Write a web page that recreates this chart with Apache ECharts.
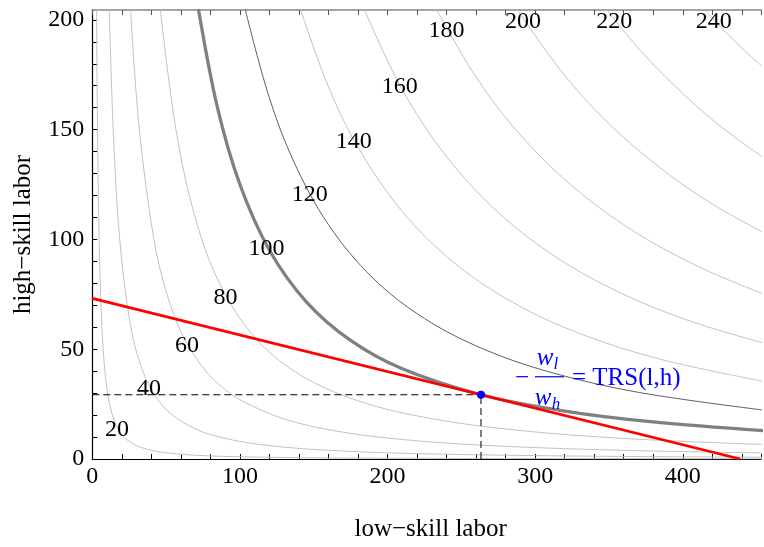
<!DOCTYPE html>
<html><head><meta charset="utf-8">
<script src="https://cdn.jsdelivr.net/npm/echarts@6/dist/echarts.min.js"></script>
<style>html,body{margin:0;padding:0;background:#fff}#c{width:764px;height:547px}</style>
</head><body><div id="c"></div>
<script>
// Isoquant curves: [low-skill labor, high-skill labor]
const curve20 = [[2.876,205],[3.542,150],[4.642,100],[6.523,60],[9.346,35],[13.57,20],[19.08,12],[25,8],[34.2,5],[48.08,3],[63,2],[76.3,1.5],[100,1],[150,0.544],[200,0.354],[300,0.1925],[455,0.103]];
const curve40 = [[11.5,205],[14.17,150],[18.57,100],[26.09,60],[34.2,40],[43.4,28],[54.3,20],[68.9,14],[80,11.18],[100,8],[130,5.397],[170,3.609],[220,2.452],[300,1.54],[380,1.08],[455,0.824]];
const curve60 = [[25.88,205],[31.88,150],[41.77,100],[50.6,75],[62.2,55],[76.9,40],[88,32.71],[100,27],[130,18.22],[170,12.18],[220,8.274],[280,5.763],[360,3.953],[455,2.782]];
const curve80 = [[46.02,205],[56.68,150],[69.7,110],[86.2,80],[110,55.47],[140,38.64],[180,26.5],[230,18.35],[290,12.96],[360,9.369],[455,6.594]];
const curve100 = [[71.9,205],[84.8,160],[100,125],[120,95.09],[145,71.59],[175,54.0],[210,41.07],[263.3,29.26],[320,21.84],[380,16.87],[455,12.879]];
const curve120 = [[103.5,205],[119.7,165],[136.8,135],[160,106.7],[190,82.47],[225,64],[265,50.07],[310,39.57],[370,30.35],[455,22.256]];
const curve140 = [[140.9,205],[159.7,170],[180,142.0],[210,112.7],[245,89.44],[285,71.29],[330,57.22],[385,45.41],[455,35.34]];
const curve160 = [[184.1,205],[210,168.2],[240,137.7],[275,112.3],[315,91.58],[360,74.96],[405,62.82],[455,52.75]];
const curve180 = [[233.0,205],[260,173.9],[290,147.6],[325,124.4],[365,104.5],[410,87.81],[455,75.11]];
const curve200 = [[287.6,205],[320,174.7],[355,149.5],[395,127.4],[425,114.13],[455,103.04]];
const curve220 = [[348,205],[375,183.3],[410,160.3],[435,146.7],[455,137.14]];
const curve240 = [[414.1,205],[430,193.8],[442,185.95],[455,178.04]];

const contourLevels = [20,40,60,80,100,120,140,160,180,200,220,240];
const contourLabelPos = [[16.7,13.5],[38.4,31.9],[64.1,51.5],[90.2,73.3],[118,95.8],[147.3,120.2],[177.1,144.3],[208.2,169.6],[240,195],[291.8,199.2],[353.6,199.2],[421,199.2]];

const budgetLine = [[0,73.15],[438.9,0]];
const tangentPoint = [263.3,29.26];
const dashH = [[0,29.26],[263.3,29.26]];
const dashV = [[263.3,0],[263.3,29.26]];

const xTickLabels = [0,100,200,300,400];
const yTickLabels = [0,50,100,150,200];

const FONT = '"Liberation Serif", "Times New Roman", serif';
const chart = echarts.init(document.getElementById('c'), null, {renderer:'canvas'});

const lightCurves = [curve20,curve40,curve60,curve80,curve140,curve160,curve180,curve200,curve220,curve240];
const series = lightCurves.map(c => ({
  type:'line', data:c, smooth:0.35, symbol:'none', silent:true, z:2,
  lineStyle:{color:'#c2c2c2', width:1}
}));
series.push({type:'line', data:curve120, smooth:0.35, symbol:'none', silent:true, z:3,
  lineStyle:{color:'#5e5e5e', width:1}});
series.push({type:'line', data:curve100, smooth:0.35, symbol:'none', silent:true, z:4,
  lineStyle:{color:'#808080', width:3.3}});
series.push({type:'line', data:dashH, symbol:'none', silent:true, z:5,
  lineStyle:{color:'#000', width:1, type:[7,4]}});
series.push({type:'line', data:dashV, symbol:'none', silent:true, z:5,
  lineStyle:{color:'#000', width:1, type:[7,4]}});
series.push({type:'line', data:budgetLine, symbol:'none', silent:true, z:6,
  lineStyle:{color:'#ff0000', width:2.8}});
series.push({type:'scatter', data:[tangentPoint], symbol:'circle', symbolSize:8, silent:true, z:7,
  itemStyle:{color:'#0000ff', opacity:1}});
series.push({type:'scatter', silent:true, z:8, symbolSize:0,
  itemStyle:{color:'#000', opacity:1},
  data: contourLabelPos.map((p,i)=>[p[0],p[1],contourLevels[i]]),
  label:{show:true, position:'inside', formatter:p=>String(p.value[2]),
    color:'#000', opacity:1, textBorderWidth:0, fontSize:24, fontFamily:FONT}});

const option = {
  animation:false,
  backgroundColor:'#fff',
  grid:{left:92.3, right:0, top:10, bottom:84, containLabel:false},
  xAxis:[{
    type:'value', min:0, max:453, interval:20, position:'bottom',
    name:'low\u2212skill labor', nameLocation:'middle', nameGap:58,
    nameTextStyle:{fontSize:25, fontFamily:FONT, color:'#000', padding:[0,0,0,8]},
    axisLine:{show:true, onZero:false, lineStyle:{color:'#000', width:1.2}},
    axisTick:{show:true, inside:true, length:5, lineStyle:{color:'#000', width:1}},
    axisLabel:{show:true, margin:6, fontSize:24, fontFamily:FONT, color:'#000',
      formatter:v=> xTickLabels.indexOf(v)>=0 ? String(v) : ''},
    splitLine:{show:false}
  },{
    type:'value', min:0, max:453, interval:20, position:'top',
    axisLine:{show:true, onZero:false, lineStyle:{color:'#888', width:1.5}},
    axisTick:{show:true, inside:true, length:5, lineStyle:{color:'#555', width:1}},
    axisLabel:{show:false}, splitLine:{show:false}
  }],
  yAxis:[{
    type:'value', min:0, max:204.5, interval:10, position:'left',
    name:'high\u2212skill labor', nameLocation:'middle', nameGap:56, nameRotate:90,
    nameTextStyle:{fontSize:25, fontFamily:FONT, color:'#000'},
    axisLine:{show:true, onZero:false, lineStyle:{color:'#000', width:1.2}},
    axisTick:{show:true, inside:true, length:5, lineStyle:{color:'#000', width:1}},
    axisLabel:{show:true, margin:8, fontSize:24, fontFamily:FONT, color:'#000',
      showMaxLabel:false,
      formatter:v=> yTickLabels.indexOf(v)>=0 ? String(v) : ''},
    splitLine:{show:false}
  }],
  series: series
};
chart.setOption(option);

const a = chart.convertToPixel({xAxisIndex:0, yAxisIndex:0}, tangentPoint);
const ax = a[0], ay = a[1];
const blue = '#0000ff';
chart.setOption({graphic:[
  {type:'text', z:20, style:{text:'\u2212', x:ax+41, y:ay-16, fill:blue, font:'25px ' + FONT, align:'center', verticalAlign:'middle'}},
  {type:'text', z:20, style:{text:'w', x:ax+64, y:ay-36, fill:blue, font:'italic 25px ' + FONT, align:'center', verticalAlign:'middle'}},
  {type:'text', z:20, style:{text:'l', x:ax+75, y:ay-30, fill:blue, font:'italic 17px ' + FONT, align:'center', verticalAlign:'middle'}},
  {type:'line', z:20, shape:{x1:ax+54, y1:ay-18, x2:ax+83, y2:ay-18}, style:{stroke:blue, lineWidth:1.2}},
  {type:'text', z:20, style:{text:'w', x:ax+62, y:ay+4, fill:blue, font:'italic 25px ' + FONT, align:'center', verticalAlign:'middle'}},
  {type:'text', z:20, style:{text:'h', x:ax+75, y:ay+10, fill:blue, font:'italic 17px ' + FONT, align:'center', verticalAlign:'middle'}},
  {type:'text', z:20, style:{text:'= TRS(l,h)', x:ax+91, y:ay-16, fill:blue, font:'25px ' + FONT, align:'left', verticalAlign:'middle'}}
]});
</script></body></html>
